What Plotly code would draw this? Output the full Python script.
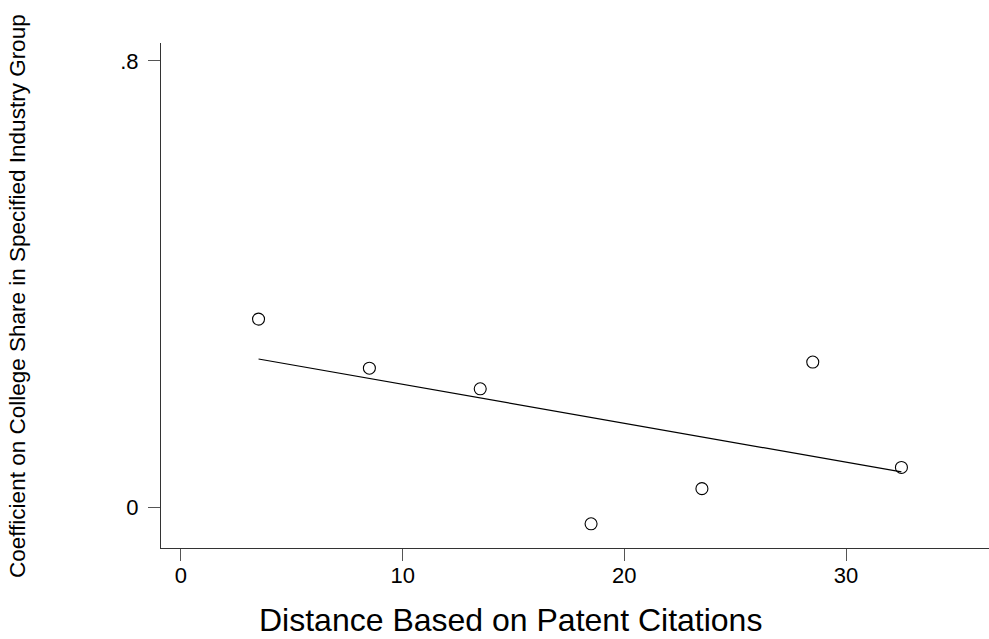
import numpy as np
import plotly.graph_objects as go

# Distance bins (patent-citation based) and estimated coefficients
distance = [3.5, 8.5, 13.5, 18.5, 23.5, 28.5, 32.5]
coefficient = [0.337, 0.249, 0.212, -0.030, 0.033, 0.260, 0.071]

x_ticks = [0, 10, 20, 30]
y_ticks = [0, 0.8]
y_tick_text = ["0", ".8"]

# Linear fit through the points
slope, intercept = np.polyfit(distance, coefficient, 1)
fit_x = [min(distance), max(distance)]
fit_y = [intercept + slope * v for v in fit_x]

W, H = 989, 639
L, R, T, B = 161, 0, 43, 91

fig = go.Figure()
fig.add_trace(go.Scatter(
    x=fit_x, y=fit_y, mode="lines",
    line=dict(color="black", width=1.2),
    hoverinfo="skip", showlegend=False,
))
fig.add_trace(go.Scatter(
    x=distance, y=coefficient, mode="markers",
    marker=dict(symbol="circle-open", size=12, color="black",
                line=dict(width=1.1, color="black")),
    showlegend=False,
))

font = "Liberation Sans, Arial, sans-serif"
axis_common = dict(
    showgrid=False, zeroline=False, showline=True,
    linecolor="#333333", linewidth=1.2,
    ticks="outside", ticklen=12, tickwidth=1.2, tickcolor="#555555",
    tickfont=dict(family=font, size=22, color="black"),
)

fig.update_layout(
    width=W, height=H,
    margin=dict(l=L, r=R, t=T, b=B),
    plot_bgcolor="white", paper_bgcolor="white",
    xaxis=dict(range=[-0.9, 36.45], tickvals=x_ticks,
               ticklabelstandoff=-5, **axis_common),
    yaxis=dict(range=[-0.0734, 0.832], tickvals=y_ticks,
               ticktext=y_tick_text, ticklabelstandoff=5, **axis_common),
    annotations=[
        dict(text="Distance Based on Patent Citations", xref="paper", yref="paper",
             x=(510 - L) / (W - L - R), y=-(620 - (H - B)) / (H - T - B),
             xanchor="center", yanchor="middle", showarrow=False,
             font=dict(family=font, size=32, color="black")),
        dict(text="Coefficient on College Share in Specified Industry Group",
             xref="paper", yref="paper",
             x=-(L - 17) / (W - L - R), y=(H - B - 296) / (H - T - B),
             xanchor="center", yanchor="middle", textangle=-90, showarrow=False,
             font=dict(family=font, size=22.5, color="black")),
    ],
)

fig.write_html("out.html")
